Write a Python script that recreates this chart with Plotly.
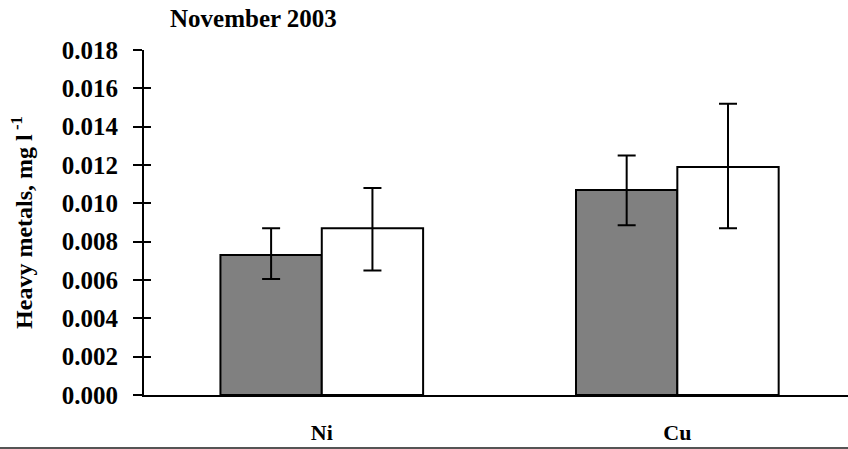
import plotly.graph_objects as go

categories = ["Ni", "Cu"]
series1 = [0.0073, 0.0107]
series1_err_plus = [0.0014, 0.0018]
series1_err_minus = [0.00125, 0.00185]
series2 = [0.0087, 0.0119]
series2_err_plus = [0.0021, 0.0033]
series2_err_minus = [0.0022, 0.0032]
y_ticks = [0.000, 0.002, 0.004, 0.006, 0.008, 0.010, 0.012, 0.014, 0.016, 0.018]

FONT = "Liberation Serif"

fig = go.Figure()
fig.add_trace(go.Bar(
    x=categories, y=series1,
    marker=dict(color="#808080", line=dict(color="black", width=2)),
    error_y=dict(type="data", symmetric=False, array=series1_err_plus,
                 arrayminus=series1_err_minus, color="black", thickness=2, width=9),
    showlegend=False,
))
fig.add_trace(go.Bar(
    x=categories, y=series2,
    marker=dict(color="white", line=dict(color="black", width=2)),
    error_y=dict(type="data", symmetric=False, array=series2_err_plus,
                 arrayminus=series2_err_minus, color="black", thickness=2, width=9),
    showlegend=False,
))
# invisible trace to carry inside ticks on overlay axis
fig.add_trace(go.Scatter(x=[categories[0]], y=[0], yaxis="y2", mode="markers",
                         marker=dict(opacity=0), showlegend=False, hoverinfo="skip"))

fig.update_layout(
    width=848, height=449,
    margin=dict(l=144, r=0, t=50, b=54, autoexpand=False),
    paper_bgcolor="white", plot_bgcolor="white",
    barmode="group", bargap=0.43, bargroupgap=0,
    font=dict(family=FONT, color="black"),
    title=dict(text="<b>November 2003</b>", x=170 / 848, xanchor="left",
               y=1 - 18 / 449, yanchor="middle",
               font=dict(family=FONT, size=25, color="black")),
    xaxis=dict(range=[-0.5, 1.48], showline=True, linecolor="black", linewidth=2,
               ticks="", showgrid=False, zeroline=False, automargin=False,
               tickfont=dict(family=FONT, size=22, color="black"),
               ticklabelstandoff=17),
    yaxis=dict(range=[0, 0.018], tickvals=y_ticks,
               ticktext=[f"<b>{v:.3f}</b>" for v in y_ticks],
               showline=True, linecolor="black", linewidth=2,
               ticks="outside", ticklen=9, tickwidth=2, tickcolor="black",
               showgrid=False, zeroline=False, automargin=False,
               tickfont=dict(family=FONT, size=25, color="black"),
               ticklabelstandoff=10,
               title=dict(text="<b>Heavy metals, mg l<sup> -1</sup></b>",
                          font=dict(family=FONT, size=24, color="black"),
                          standoff=22)),
    yaxis2=dict(range=[0, 0.018], overlaying="y", side="left", tickvals=y_ticks,
                showticklabels=False, ticks="inside", ticklen=7, tickwidth=2,
                tickcolor="black", showline=False, showgrid=False, zeroline=False,
                automargin=False),
)
fig.for_each_xaxis(lambda a: a.update(tickvals=categories,
                                      ticktext=[f"<b>{c}</b>" for c in categories]))

fig.add_shape(type="line", xref="paper", yref="paper",
              x0=-144 / 704, x1=1, y0=-(448 - 395) / 345, y1=-(448 - 395) / 345,
              line=dict(color="#555555", width=2))

fig.write_html(
    "out.html",
    config={"displayModeBar": False},
    post_script="document.body.style.margin='0';document.body.style.overflow='hidden';",
)
